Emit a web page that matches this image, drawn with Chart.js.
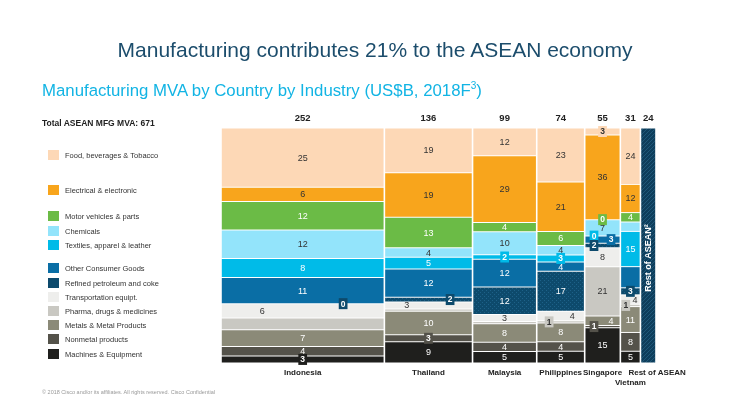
<!DOCTYPE html>
<html>
<head>
<meta charset="utf-8">
<script src="https://cdn.jsdelivr.net/npm/chart.js@4.4.1/dist/chart.umd.min.js"></script>
<style>
  body { margin: 0; background: #fff; font-family: "Liberation Sans", Arial, sans-serif; }
  #wrap { position: relative; width: 750px; height: 420px; overflow: hidden; }
  #chart { position: absolute; left: 0; top: 0; }
  .title { position: absolute; left: 0; width: 750px; top: 38px; text-align: center; font-size: 21px; color: #1c4d6c; }
  .subtitle { position: absolute; left: 42px; top: 81px; font-size: 16.8px; color: #12b4e4; white-space: nowrap; }
  .subtitle sup { font-size: 10px; line-height: 0; }
  .total { position: absolute; left: 42px; top: 118px; font-size: 8.5px; font-weight: bold; color: #222; }
  .lg { position: absolute; left: 48px; font-size: 7.5px; color: #333; height: 11px; line-height: 11px; white-space: nowrap; }
  .lg i { display: inline-block; width: 11px; height: 10px; vertical-align: top; margin-right: 6px; }
  .footer { position: absolute; left: 42px; top: 389px; font-size: 5.5px; color: #999; white-space: nowrap; }
</style>
</head>
<body>
<div id="wrap">
  <canvas id="chart" width="750" height="420"></canvas>
  <div class="title">Manufacturing contributes 21% to the ASEAN economy</div>
  <div class="subtitle">Manufacturing MVA by Country by Industry (US$B, 2018F<sup>3</sup>)</div>
  <div class="total">Total ASEAN MFG MVA: 671</div>
  <div id="legend"></div>
  <div class="footer">© 2018  Cisco and/or its affiliates. All rights reserved.   Cisco Confidential</div>
</div>
<script>
// Countries (column widths = country MVA in US$B)
const countries = ['Indonesia', 'Thailand', 'Malaysia', 'Philippines', 'Singapore', 'Vietnam', 'Rest of ASEAN'];
const totals = [252, 136, 99, 74, 55, 31, 24];

// Industries, listed top to bottom
const industries = [
  'Food, beverages & Tobacco', 'Electrical & electronic', 'Motor vehicles & parts', 'Chemicals',
  'Textiles, apparel & leather', 'Other Consumer Goods', 'Refined petroleum and coke', 'Transportation equipt.',
  'Pharma, drugs & medicines', 'Metals & Metal Products', 'Nonmetal products', 'Machines & Equipment'
];

// Share of each country's MVA (%), Indonesia .. Vietnam
const food      = [25, 19, 12, 23, 3, 24];
const elec      = [6, 19, 29, 21, 36, 12];
const motor     = [12, 13, 4, 6, 0, 4];
const chem      = [12, 4, 10, 4, 7, 4];
const textiles  = [8, 5, 2, 3, 0, 15];
const otherGds  = [11, 12, 12, 4, 3, 9];
const refined   = [0, 2, 12, 17, 2, 3];
const transport = [6, 3, 3, 4, 8, 4];
const pharma    = [5, 1, 1, 1, 21, 1];
const metals    = [7, 10, 8, 8, 4, 11];
const nonmetal  = [4, 3, 4, 4, 1, 8];
const machines  = [3, 9, 5, 5, 15, 5];
const shares = [food, elec, motor, chem, textiles, otherGds, refined, transport, pharma, metals, nonmetal, machines];

// Styling
const colors = ['#fdd8b6', '#f8a51c', '#6bbb46', '#93e4fb', '#00bbe8', '#0a6ea5',
                '#0d4a6c', '#eeeeec', '#c9c8c2', '#8b8a78', '#54524a', '#1f1f1d'];
const darkText = [true, true, false, true, false, false, false, true, true, false, false, false];
const legendTops = [150, 185, 211, 226, 240, 263, 278, 292, 306, 320, 334, 349];
const FONT = '"Liberation Sans", Arial, sans-serif';

// labels not printed in the original, and labels pushed to a side of the column
const hiddenLabels = ['Indonesia|8', 'Thailand|8', 'Malaysia|8', 'Vietnam|3', 'Vietnam|5'];
const labelSide = {
  'Indonesia|7': -1, 'Indonesia|6': 1, 'Thailand|7': -1, 'Thailand|6': 1,
  'Philippines|8': -1, 'Philippines|7': 1, 'Singapore|4': -1, 'Singapore|5': 1,
  'Singapore|6': -1, 'Singapore|10': -1, 'Singapore|9': 1, 'Vietnam|8': -1, 'Vietnam|7': 1
};

// Patterns for refined petroleum and rest of ASEAN
function makePattern(bg, fg, kind) {
  const c = document.createElement('canvas');
  c.width = 4; c.height = 4;
  const g = c.getContext('2d');
  g.fillStyle = bg; g.fillRect(0, 0, 4, 4);
  g.fillStyle = fg;
  if (kind === 'dots') { g.fillRect(0, 0, 1, 1); g.fillRect(2, 2, 1, 1); }
  else { g.fillRect(3, 0, 1, 1); g.fillRect(2, 1, 1, 1); g.fillRect(1, 2, 1, 1); g.fillRect(0, 3, 1, 1); }
  return document.getElementById('chart').getContext('2d').createPattern(c, 'repeat');
}
const refinedFill = makePattern('#0d4a6c', '#1d6188', 'dots');
const restFill = makePattern('#0e3e5c', '#1f5879', 'hatch');

// Column extents on the x axis
const grandTotal = totals.reduce((a, b) => a + b, 0);
const starts = [];
let run = 0;
totals.forEach(t => { starts.push(run); run += t; });
const centers = totals.map((t, i) => starts[i] + t / 2);

// Build floating-bar datasets: one per industry, stacked bottom-up
const nC = 6;
const colSum = [];
for (let c = 0; c < nC; c++) colSum.push(shares.reduce((a, s) => a + s[c], 0));
const ranges = shares.map(() => []);
for (let c = 0; c < nC; c++) {
  let acc = 0;
  for (let k = shares.length - 1; k >= 0; k--) {
    const lo = acc / colSum[c] * 100;
    acc += shares[k][c];
    ranges[k][c] = [lo, acc / colSum[c] * 100];
  }
}

const datasets = industries.map((name, k) => ({
  label: name,
  data: shares[k].map((v, c) => ({ x: centers[c], y: ranges[k][c], x0: starts[c], x1: starts[c] + totals[c], c: c, v: v, k: k })),
  backgroundColor: k === 6 ? refinedFill : colors[k]
}));
datasets.push({
  label: 'Rest of ASEAN',
  data: [{ x: centers[6], y: [0, 100], x0: starts[6], x1: grandTotal, c: 6, v: null, k: -1 }],
  backgroundColor: restFill
});

// Give every column its own width (marimekko)
const mekkoWidths = {
  id: 'mekkoWidths',
  afterDatasetsUpdate(chart) {
    const xs = chart.scales.x;
    chart.data.datasets.forEach((ds, di) => {
      chart.getDatasetMeta(di).data.forEach((el, i) => {
        const raw = ds.data[i];
        const l = xs.getPixelForValue(raw.x0) + 0.8;
        const r = xs.getPixelForValue(raw.x1) - 0.8;
        el.x = (l + r) / 2;
        el.width = r - l;
        if (el.base - el.y > 1.5) { el.y += 0.5; el.base -= 0.5; }
      });
    });
  }
};

// Value labels inside the segments
const segmentLabels = {
  id: 'segmentLabels',
  afterDatasetsDraw(chart) {
    const ctx = chart.ctx;
    ctx.save();
    ctx.textAlign = 'center';
    ctx.textBaseline = 'middle';
    chart.data.datasets.forEach((ds, di) => {
      chart.getDatasetMeta(di).data.forEach((el, i) => {
        const raw = ds.data[i];
        if (raw.k < 0) {
          // vertical label in the rest-of-ASEAN column
          ctx.save();
          ctx.translate(el.x + 0.5, chart.chartArea.top + 130);
          ctx.rotate(-Math.PI / 2);
          ctx.fillStyle = '#fff';
          ctx.font = 'bold 9px ' + FONT;
          ctx.fillText('Rest of ASEAN²', 0, 0);
          ctx.restore();
          return;
        }
        const key = countries[raw.c] + '|' + raw.k;
        if (hiddenLabels.includes(key)) return;
        const h = el.base - el.y;
        const side = labelSide[key] || 0;
        const x = el.x + side * el.width * 0.25;
        const y = (el.y + el.base) / 2;
        const txt = String(raw.v);
        if (h < 8 && raw.k !== 7) {
          ctx.font = 'bold 8.5px ' + FONT;
          const w = ctx.measureText(txt).width + 4;
          ctx.fillStyle = colors[raw.k];
          ctx.fillRect(x - w / 2, y - 5.5, w, 11);
          ctx.fillStyle = darkText[raw.k] && raw.k !== 3 ? '#333' : '#fff';
          ctx.fillText(txt, x, y + 0.5);
        } else {
          ctx.font = '9px ' + FONT;
          ctx.fillStyle = darkText[raw.k] ? '#333' : '#fff';
          ctx.fillText(txt, x, y + 0.5);
        }
      });
    });
    ctx.restore();
  }
};

// Legend on the left
const legendBox = document.getElementById('legend');
industries.forEach((name, k) => {
  const row = document.createElement('div');
  row.className = 'lg';
  row.style.top = legendTops[k] + 'px';
  row.innerHTML = '<i style="background:' + colors[k] + '"></i>' + name;
  legendBox.appendChild(row);
});

const axisBase = {
  type: 'linear', min: 0, max: grandTotal, offset: false,
  grid: { display: false, drawTicks: false },
  border: { display: false },
  afterBuildTicks: s => { s.ticks = centers.map(v => ({ value: v })); }
};

new Chart(document.getElementById('chart'), {
  type: 'bar',
  data: { datasets: datasets },
  options: {
    responsive: false,
    animation: false,
    grouped: false,
    inflateAmount: 0,
    borderWidth: 0,
    layout: { padding: { left: 221, right: 94, top: 114, bottom: 27 } },
    plugins: { legend: { display: false }, tooltip: { enabled: true } },
    scales: {
      x: Object.assign({}, axisBase, {
        position: 'bottom',
        afterFit: s => { s.height = 30; },
        ticks: {
          autoSkip: false, maxRotation: 0, padding: 5, color: '#222',
          font: { family: FONT, size: 8, weight: 'bold' },
          // Vietnam drops to a second line, rest of ASEAN starts at its column
          callback: (v, i) => i === 5 ? ['', countries[i]] : (i === 6 ? '        ' + countries[i] : countries[i])
        }
      }),
      x2: Object.assign({}, axisBase, {
        position: 'top',
        afterFit: s => { s.height = 14; },
        ticks: {
          autoSkip: false, maxRotation: 0, padding: 4, color: '#222',
          font: { family: FONT, size: 9.5, weight: 'bold' },
          callback: (v, i) => String(totals[i])
        }
      }),
      y: { display: false, min: 0, max: 100 }
    }
  },
  plugins: [mekkoWidths, segmentLabels]
});
</script>
</body>
</html>
